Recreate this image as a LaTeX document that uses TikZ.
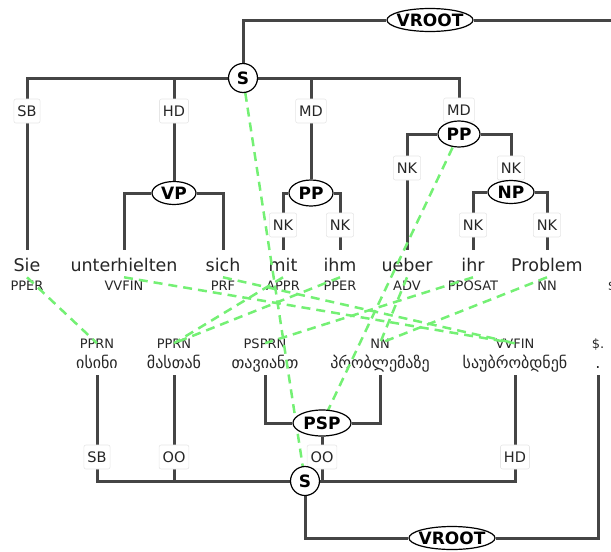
\documentclass[tikz,border=0pt]{standalone}
\usepackage{fontspec}
\setmainfont{DejaVu Sans}
\usetikzlibrary{shapes.geometric}
\pgfdeclarelayer{lines}
\pgfdeclarelayer{align}
\pgfdeclarelayer{top}
\pgfsetlayers{lines,main,align,top}
\newcommand{\nlbl}[1]{\makebox[0pt]{\raisebox{-0.36em}[0pt][0pt]{#1}}}
\definecolor{treeline}{HTML}{454545}
\definecolor{aligngreen}{HTML}{74F074}
\definecolor{lblborder}{HTML}{E6E6E6}
\begin{document}
\begin{tikzpicture}[x=1pt,y=-1pt,
 tree/.style={draw=treeline, line width=3pt},
 aln/.style={draw=aligngreen, line width=2.5pt, dash pattern=on 9pt off 6pt},
 cat/.style={ellipse, draw=black, line width=1.2pt, fill=white, inner sep=0pt, font=\fontsize{17}{20}\selectfont\bfseries},
 circ/.style={circle, draw=black, line width=1.2pt, fill=white, inner sep=0pt, minimum size=29pt, font=\fontsize{17}{20}\selectfont\bfseries},
 elbl/.style={rectangle, rounded corners=2pt, draw=lblborder, line width=0.6pt, fill=white, inner xsep=3.5pt, inner ysep=0pt, minimum height=24pt, text height=10.5pt, text depth=0pt, font=\fontsize{14.5}{16}\selectfont, text=black!85},
 wtop/.style={anchor=base, inner xsep=0pt, inner ysep=8pt, text height=12.5pt, text depth=3.7pt, font=\fontsize{17.5}{20}\selectfont, text=black!85},
 ttag/.style={anchor=base, inner xsep=0pt, inner ysep=3.5pt, text height=9.5pt, text depth=0pt, font=\fontsize{13}{15}\selectfont, text=black!85},
 wlow/.style={anchor=base, inner xsep=0pt, inner ysep=4pt, text height=10pt, text depth=3pt, font=\fontsize{16}{18}\selectfont, text=black!85},
]
\useasboundingbox (0,0) rectangle (611,552);

% ---------- upper tree: category nodes
\begin{pgfonlayer}{top}
\node[cat, minimum width=86pt, minimum height=23pt] (vr1) at (430,20) {\nlbl{VROOT}};
\node[circ] (s1) at (243,78) {\nlbl{S}};
\node[cat, minimum width=44pt, minimum height=23pt] (vp) at (174,193) {\nlbl{VP}};
\node[cat, minimum width=44pt, minimum height=26pt] (ppa) at (311,193) {\nlbl{PP}};
\node[cat, minimum width=42pt, minimum height=26pt] (ppb) at (459,134) {\nlbl{PP}};
\node[cat, minimum width=46pt, minimum height=23pt] (np) at (511,192) {\nlbl{NP}};
% lower tree
\node[cat, minimum width=58pt, minimum height=26pt] (psp) at (322,423) {\nlbl{PSP}};
\node[circ] (s2) at (305,481) {\nlbl{S}};
\node[cat, minimum width=86pt, minimum height=23pt] (vr2) at (452,538) {\nlbl{VROOT}};
\end{pgfonlayer}

% ---------- upper words and tags
\node[wtop] (w1) at (27,271) {Sie};
\node[wtop] (w2) at (124,271) {unterhielten};
\node[wtop] (w3) at (223,271) {sich};
\node[wtop] (w4) at (283,271) {mit};
\node[wtop] (w5) at (340,271) {ihm};
\node[wtop] (w6) at (407,271) {ueber};
\node[wtop] (w7) at (473,271) {ihr};
\node[wtop] (w8) at (547,271) {Problem};
\coordinate (w9) at (622,250);
\node[ttag] (t1) at (27,290.5) {PPER};
\node[ttag] (t2) at (124,290.5) {VVFIN};
\node[ttag] (t3) at (223,290.5) {PRF};
\node[ttag] (t4) at (283,290.5) {APPR};
\node[ttag] (t5) at (340,290.5) {PPER};
\node[ttag] (t6) at (407,290.5) {ADV};
\node[ttag] (t7) at (473,290.5) {PPOSAT};
\node[ttag] (t8) at (547,290.5) {NN};
\node[ttag] (t9) at (614,290.5) {\$.};

% ---------- lower tags and words
\node[ttag] (u1) at (97,348) {PPRN};
\node[ttag] (u2) at (174,348) {PPRN};
\node[ttag] (u3) at (265,348) {PSPRN};
\node[ttag] (u4) at (380,348) {NN};
\node[ttag] (u5) at (515,348) {VVFIN};
\node[ttag] (u6) at (598,348) {\$.};
\node[wlow] (b1) at (97,368) {ისინი};
\node[wlow] (b2) at (174,368) {მასთან};
\node[wlow] (b3) at (265,368) {თავიანთ};
\node[wlow] (b4) at (380,368) {პრობლემაზე};
\node[wlow] (b5) at (515,368) {საუბრობდნენ};
\node[wlow] (b6) at (598,368) {.};

% ---------- edge labels
\node[elbl] (l1) at (27,111) {SB};
\node[elbl] (l2) at (174,111) {HD};
\node[elbl] (l3) at (311,111) {MD};
\node[elbl] (l4) at (459,110) {MD};
\node[elbl] (l5) at (407,168) {NK};
\node[elbl] (l6) at (511,168) {NK};
\node[elbl] (l7) at (283,225) {NK};
\node[elbl] (l8) at (340,225) {NK};
\node[elbl] (l9) at (473,225) {NK};
\node[elbl] (l10) at (547,225) {NK};
\node[elbl] (l11) at (97,457) {SB};
\node[elbl] (l12) at (174,457) {OO};
\node[elbl] (l13) at (322,457) {OO};
\node[elbl] (l14) at (515,457) {HD};

% ---------- tree connectors
\begin{pgfonlayer}{lines}
\draw[tree] (vr1) -| (s1);
\draw[tree] (vr1) -| (w9);
\draw[tree] (s1) -| (w1.north);
\draw[tree] (s1) -| (vp);
\draw[tree] (s1) -| (ppa);
\draw[tree] (s1) -| (ppb);
\draw[tree] (vp) -| (w2.north);
\draw[tree] (vp) -| (w3.north);
\draw[tree] (ppa) -| (w4.north);
\draw[tree] (ppa) -| (w5.north);
\draw[tree] (ppb) -| (w6.north);
\draw[tree] (ppb) -| (np);
\draw[tree] (np) -| (w7.north);
\draw[tree] (np) -| (w8.north);
\draw[tree] (s2) -| (b1.south);
\draw[tree] (s2) -| (b2.south);
\draw[tree] (s2) -| (psp);
\draw[tree] (s2) -| (b5.south);
\draw[tree] (psp) -| (b3.south);
\draw[tree] (psp) -| (b4.south);
\draw[tree] (s2) |- (vr2);
\draw[tree] (vr2) -| (b6.south);
\end{pgfonlayer}

% ---------- alignment links
\begin{pgfonlayer}{align}
\draw[aln] (t1.north) -- (u1.center);
\draw[aln] (t2.north) -- (u5.center);
\draw[aln] (t3.north) -- (u5.center);
\draw[aln] (t4.north) -- (u2.center);
\draw[aln] (t5.north) -- (u2.center);
\draw[aln] (t6.north) -- (u4.center);
\draw[aln] (t7.north) -- (u3.center);
\draw[aln] (t8.north) -- (u4.center);
\draw[aln] (s1.center) -- (s2.center);
\draw[aln] (ppb.center) -- (psp.center);
\end{pgfonlayer}
\end{tikzpicture}
\end{document}
